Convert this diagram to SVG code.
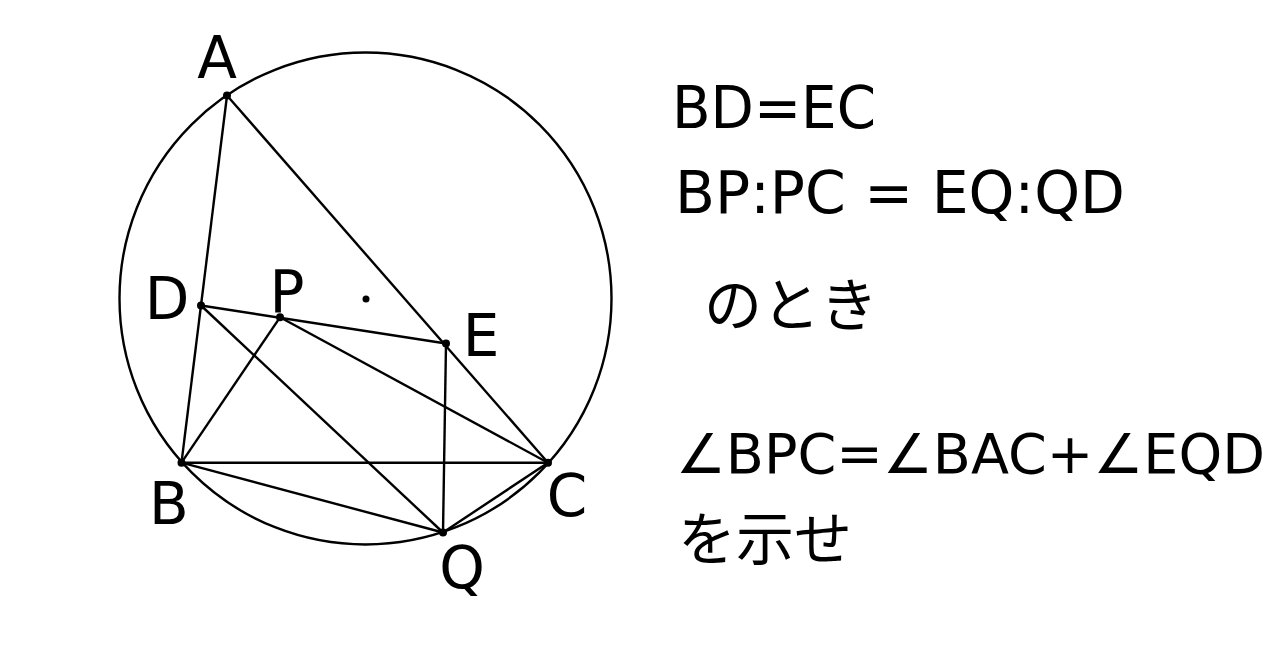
<svg xmlns="http://www.w3.org/2000/svg" width="1280" height="670" viewBox="0 0 1280 670">
<style>
.ln{stroke:#000;stroke-width:2.4;fill:none}
.pt{fill:#000}
.t{font-family:"DejaVu Sans","Noto Sans CJK JP",sans-serif;font-size:58px;fill:#000}
</style>
<rect width="1280" height="670" fill="#fff"/>
<g id="connectors">
<circle class="ln" cx="365.5" cy="298.5" r="246"/>
<line class="ln" x1="227" y1="95.5" x2="181.5" y2="462.7"/>
<line class="ln" x1="227" y1="95.5" x2="548" y2="462.7"/>
<line class="ln" x1="181.5" y1="462.7" x2="548" y2="462.7"/>
<line class="ln" x1="201" y1="305.5" x2="446" y2="343.5"/>
<line class="ln" x1="181.5" y1="462.7" x2="280" y2="317.3"/>
<line class="ln" x1="280" y1="317.3" x2="548" y2="462.7"/>
<line class="ln" x1="201" y1="305.5" x2="443" y2="532.5"/>
<line class="ln" x1="446" y1="343.5" x2="443" y2="532.5"/>
<line class="ln" x1="181.5" y1="462.7" x2="443" y2="532.5"/>
<line class="ln" x1="443" y1="532.5" x2="548" y2="462.7"/>
</g>
<g id="A"><circle class="pt" cx="227" cy="95.5" r="4"/><text class="t" x="217" y="78" text-anchor="middle">A</text></g>
<g id="D"><circle class="pt" cx="201" cy="305.5" r="4"/><text class="t" x="167" y="319" text-anchor="middle">D</text></g>
<g id="P"><circle class="pt" cx="280" cy="317.3" r="4"/><text class="t" x="287" y="312" text-anchor="middle">P</text></g>
<g id="O"><circle class="pt" cx="366" cy="299" r="3.5"/></g>
<g id="E"><circle class="pt" cx="446" cy="343.5" r="4"/><text class="t" x="481" y="356" text-anchor="middle">E</text></g>
<g id="B"><circle class="pt" cx="181.5" cy="462.7" r="4"/><text class="t" x="169" y="524" text-anchor="middle">B</text></g>
<g id="C"><circle class="pt" cx="548" cy="462.7" r="4"/><text class="t" x="567" y="516" text-anchor="middle">C</text></g>
<g id="Q"><circle class="pt" cx="443" cy="532.5" r="4"/><text class="t" x="462" y="588" text-anchor="middle">Q</text></g>
<g id="text">
<text class="t" x="672" y="128" textLength="204" lengthAdjust="spacingAndGlyphs">BD=EC</text>
<text class="t" x="675" y="213" textLength="450" lengthAdjust="spacingAndGlyphs">BP:PC = EQ:QD</text>
<text class="t" x="704" y="326">のとき</text>
<text class="t" x="676" y="473" style="font-size:55px" textLength="589" lengthAdjust="spacingAndGlyphs">∠BPC=∠BAC+∠EQD</text>
<text class="t" x="678" y="560">を示せ</text>
</g>
</svg>
